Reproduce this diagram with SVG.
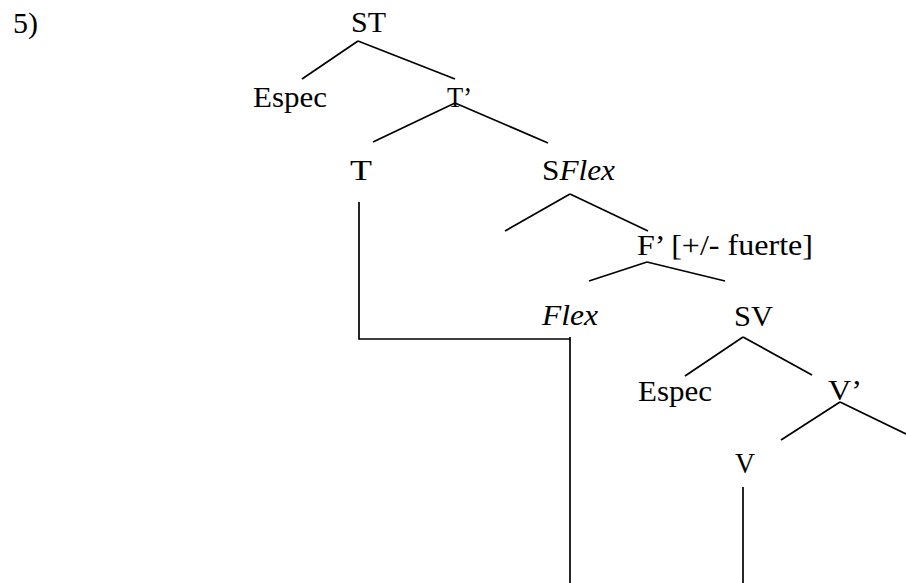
<svg xmlns="http://www.w3.org/2000/svg" width="906" height="583" viewBox="0 0 906 583">
<style>
text{font-family:"Liberation Serif","Times New Roman",serif;font-size:30px;fill:#000}
.it{font-style:italic}
line,polyline{stroke:#000;stroke-width:1.7;fill:none}
</style>
<rect width="906" height="583" fill="#fff"/>
<text x="13" y="33" textLength="25" lengthAdjust="spacingAndGlyphs">5)</text>
<g id="ST"><text x="351" y="32" textLength="35" lengthAdjust="spacingAndGlyphs">ST</text></g>
<g id="Espec1"><text x="253" y="107" textLength="74" lengthAdjust="spacingAndGlyphs">Espec</text></g>
<g id="Tbar"><text x="447" y="107" textLength="25" lengthAdjust="spacingAndGlyphs">T’</text></g>
<g id="T"><text x="350" y="180" textLength="22" lengthAdjust="spacingAndGlyphs">T</text></g>
<g id="SFlex"><text x="542" y="180" textLength="73" lengthAdjust="spacingAndGlyphs">S<tspan class="it">Flex</tspan></text></g>
<g id="Fbar"><text x="637" y="255" textLength="176" lengthAdjust="spacingAndGlyphs">F’ [+/- fuerte]</text></g>
<g id="Flex"><text class="it" x="542" y="325" textLength="56" lengthAdjust="spacingAndGlyphs">Flex</text></g>
<g id="SV"><text x="734" y="326" textLength="39" lengthAdjust="spacingAndGlyphs">SV</text></g>
<g id="Espec2"><text x="638" y="401" textLength="74" lengthAdjust="spacingAndGlyphs">Espec</text></g>
<g id="Vbar"><text x="828" y="400" textLength="34" lengthAdjust="spacingAndGlyphs">V’</text></g>
<g id="V"><text x="735" y="473" textLength="20" lengthAdjust="spacingAndGlyphs">V</text></g>
<g id="connectors">
<line x1="358" y1="41" x2="302" y2="79"/>
<line x1="358" y1="41" x2="455" y2="79"/>
<line x1="455" y1="103" x2="373" y2="142"/>
<line x1="455" y1="103" x2="548" y2="143"/>
<line x1="570" y1="194" x2="505" y2="231"/>
<line x1="570" y1="194" x2="648" y2="231"/>
<line x1="647" y1="262" x2="589" y2="281"/>
<line x1="647" y1="262" x2="725" y2="281"/>
<line x1="743" y1="337" x2="685" y2="376"/>
<line x1="743" y1="337" x2="812" y2="375"/>
<line x1="840" y1="402" x2="781" y2="440"/>
<line x1="840" y1="402" x2="906" y2="434"/>
<polyline points="359,202 359,339 570,339"/>
<line x1="570" y1="337" x2="570" y2="583"/>
<line x1="743" y1="487" x2="743" y2="583"/>
</g>
</svg>
